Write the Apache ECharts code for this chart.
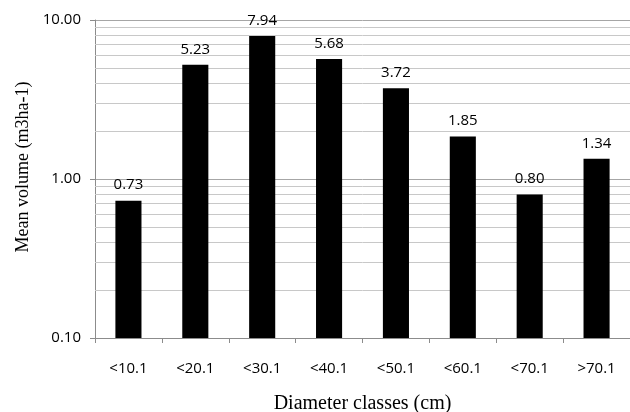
<!DOCTYPE html>
<html>
<head>
<meta charset="utf-8">
<script src="https://cdn.jsdelivr.net/npm/echarts@6/dist/echarts.min.js"></script>
<style>
  html, body { margin: 0; padding: 0; background: #fff; }
  #chart { width: 630px; height: 412px; }
</style>
</head>
<body>
<div id="chart"></div>
<script>
// Diameter classes and mean volume per class
const categories = ['<10.1', '<20.1', '<30.1', '<40.1', '<50.1', '<60.1', '<70.1', '>70.1'];
const meanVolume = [0.73, 5.23, 7.94, 5.68, 3.72, 1.85, 0.80, 1.34];

// Log-scale minor gridlines (2..9 within each decade)
const minorGridValues = [0.2, 0.3, 0.4, 0.5, 0.6, 0.7, 0.8, 0.9, 2, 3, 4, 5, 6, 7, 8, 9];

const tickFont = 'Open Sans';
const titleFont = 'Liberation Serif';

const chart = echarts.init(document.getElementById('chart'), null, { renderer: 'canvas' });

chart.setOption({
  animation: false,
  backgroundColor: '#ffffff',
  grid: { left: 95, right: 0, top: 20, bottom: 74, containLabel: false, outerBoundsMode: 'none' },
  xAxis: {
    type: 'category',
    data: categories,
    name: 'Diameter classes (cm)',
    nameLocation: 'middle',
    nameGap: 56,
    nameTextStyle: { fontFamily: titleFont, fontSize: 20, color: '#000' },
    axisLine: { show: true, lineStyle: { color: '#8c8c8c', width: 1 } },
    axisTick: { show: true, length: 5, alignWithLabel: false, lineStyle: { color: '#8c8c8c' } },
    axisLabel: { fontFamily: tickFont, fontSize: 15, color: '#000', margin: 23 },
    splitLine: { show: false }
  },
  yAxis: {
    type: 'log',
    logBase: 10,
    min: 0.1,
    max: 10,
    interval: 1,
    startValue: 0.1,
    name: 'Mean volume (m3ha-1)',
    nameLocation: 'middle',
    nameGap: 62,
    nameRotate: 90,
    nameTextStyle: { fontFamily: titleFont, fontSize: 18, color: '#000', padding: [0, 0, 0, 24] },
    axisLine: { show: true, lineStyle: { color: '#8c8c8c', width: 1 } },
    axisTick: { show: true, length: 5, lineStyle: { color: '#8c8c8c' } },
    axisLabel: {
      fontFamily: tickFont, fontSize: 15, color: '#000', margin: 14,
      formatter: v => Number(v).toFixed(2)
    },
    splitLine: { show: true, lineStyle: { color: '#a6a6a6', width: 1 } },
    minorSplitLine: { show: false }
  },
  series: [
    {
      type: 'line',
      z: 1,
      silent: true,
      data: [],
      markLine: {
        silent: true,
        symbol: ['none', 'none'],
        label: { show: false },
        lineStyle: { color: '#c8c8c8', type: 'solid', width: 1 },
        data: minorGridValues.map(v => ({ yAxis: v }))
      }
    },
    {
      type: 'bar',
      z: 5,
      data: meanVolume,
      barWidth: '39%',
      itemStyle: { color: '#000000' },
      label: {
        show: true,
        position: 'top',
        distance: 8,
        fontFamily: tickFont,
        fontSize: 15,
        color: '#000',
        formatter: p => Number(p.value).toFixed(2)
      }
    }
  ]
});
</script>
</body>
</html>
